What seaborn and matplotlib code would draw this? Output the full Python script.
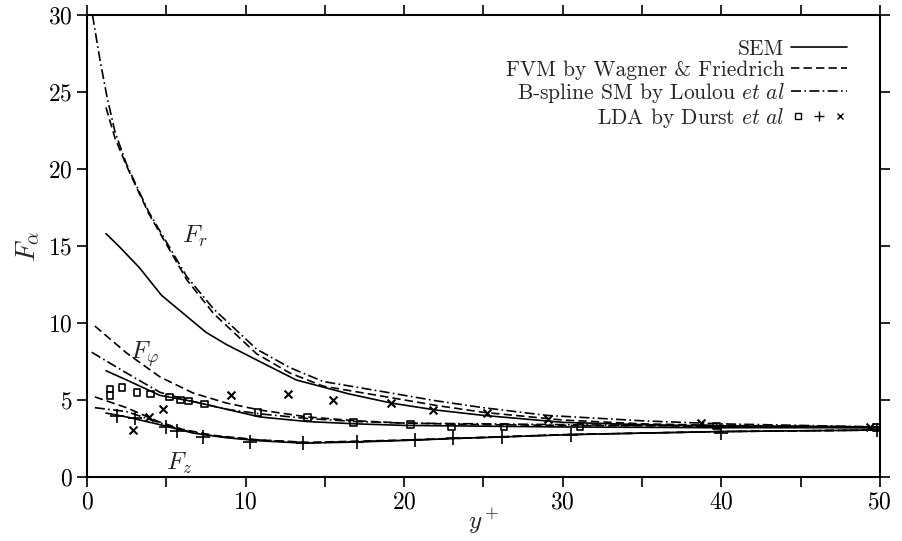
import numpy as np
import matplotlib
matplotlib.use("Agg")
import matplotlib.pyplot as plt
import seaborn as sns
from matplotlib.lines import Line2D
from matplotlib.legend_handler import HandlerTuple

# F_r curves
sem_r_x = [1.2, 2.0, 3.3, 4.7, 7.5, 8.8, 10.7, 13.2, 16.5, 19.2, 22, 25, 30, 35, 40, 45, 50]
sem_r_y = [15.8, 15.0, 13.6, 11.8, 9.4, 8.6, 7.6, 6.3, 5.4, 4.8, 4.35, 4.0, 3.55, 3.4, 3.3, 3.25, 3.2]
fvm_r_x = [1.2, 1.77, 2.5, 2.9, 3.9, 5.1, 6.3, 8.0, 10.7, 12.8, 14.9, 18.9, 22, 25, 30, 35, 40, 45, 50]
fvm_r_y = [24.0, 22.0, 20.2, 19.3, 17.1, 14.95, 12.8, 10.6, 8.0, 6.75, 5.9, 5.2, 4.65, 4.2, 3.7, 3.45, 3.35, 3.3, 3.25]
bsp_r_x = [0.35, 0.8, 1.26, 1.77, 2.5, 2.9, 3.9, 5.1, 6.3, 8.0, 10.7, 12.8, 14.9, 18.9, 22, 25, 29, 35, 40, 45, 50]
bsp_r_y = [30.0, 27.2, 24.7, 22.4, 20.3, 19.4, 17.2, 15.1, 13.0, 10.9, 8.3, 7.1, 6.2, 5.5, 4.95, 4.5, 4.0, 3.65, 3.45, 3.35, 3.25]

# F_phi curves
sem_p_x = [1.2, 2.5, 4.6, 6.7, 8.8, 10.9, 13.9, 17, 20, 25, 30, 40, 50]
sem_p_y = [6.9, 6.3, 5.3, 4.9, 4.4, 3.9, 3.6, 3.45, 3.35, 3.3, 3.25, 3.2, 3.2]
fvm_p_x = [0.5, 2.5, 4.6, 6.7, 8.8, 10.9, 13.9, 17, 20, 25, 30, 40, 50]
fvm_p_y = [9.8, 8.05, 6.5, 5.45, 4.8, 4.35, 3.9, 3.65, 3.5, 3.4, 3.35, 3.3, 3.25]
bsp_p_x = [0.3, 2.5, 4.6, 6.7, 8.8, 10.9, 13.9, 17, 20, 25, 30, 40, 50]
bsp_p_y = [8.1, 6.75, 5.5, 4.9, 4.4, 4.1, 3.8, 3.6, 3.5, 3.45, 3.4, 3.3, 3.25]

# F_z curves
sem_z_x = [1.2, 2.5, 4.6, 6.7, 8.8, 10.9, 13.6, 17, 20.7, 23.1, 26.2, 30.5, 35, 40, 45, 50]
sem_z_y = [4.15, 3.9, 3.4, 2.85, 2.55, 2.35, 2.2, 2.27, 2.4, 2.5, 2.6, 2.75, 2.85, 2.95, 3.0, 3.05]
fvm_z_x = [0.5, 2.5, 4.5, 6.0, 8.0, 10.9, 14, 20, 30, 40, 50]
fvm_z_y = [5.2, 4.5, 3.6, 3.1, 2.7, 2.4, 2.25, 2.4, 2.75, 2.95, 3.05]
bsp_z_x = [0.5, 2.5, 4.5, 6.0, 8.0, 10.9, 14, 20, 30, 40, 50]
bsp_z_y = [4.5, 4.25, 3.55, 3.05, 2.65, 2.4, 2.22, 2.38, 2.75, 2.95, 3.05]

# LDA measurements
lda_sq_x = [1.45, 1.45, 2.2, 3.15, 4.0, 5.2, 5.9, 6.4, 7.4, 10.8, 13.9, 16.8, 20.4, 23.0, 26.3, 31.1, 39.7, 49.8]
lda_sq_y = [5.7, 5.3, 5.8, 5.5, 5.4, 5.2, 5.0, 4.95, 4.75, 4.2, 3.85, 3.55, 3.4, 3.25, 3.25, 3.25, 3.3, 3.2]
lda_plus_x = [1.9, 3.0, 5.0, 5.7, 7.3, 10.3, 13.6, 17.0, 20.7, 23.1, 26.2, 30.5, 40.0, 49.8]
lda_plus_y = [3.95, 3.85, 3.25, 3.0, 2.6, 2.3, 2.2, 2.27, 2.4, 2.5, 2.6, 2.75, 2.85, 3.05]
lda_x_x = [2.9, 3.9, 4.8, 9.1, 12.7, 15.5, 19.2, 21.8, 25.2, 29.1, 38.7, 49.4]
lda_x_y = [3.05, 3.9, 4.4, 5.3, 5.4, 5.0, 4.8, 4.35, 4.15, 3.75, 3.5, 3.25]

sns.set_style("ticks")
plt.rcParams["font.family"] = ["cmr10", "DejaVu Serif"]
plt.rcParams["mathtext.fontset"] = "cm"
plt.rcParams["axes.formatter.use_mathtext"] = True

fig = plt.figure(figsize=(9.03, 5.41), dpi=100)
ax = fig.add_axes([0.0963, 0.1183, 0.878, 0.854])

lw = 1.2
dash = (5, 2.5)
dashdot = (6, 2, 1, 2)
for xs, ys, style in [
    (sem_r_x, sem_r_y, "-"), (fvm_r_x, fvm_r_y, dash), (bsp_r_x, bsp_r_y, dashdot),
    (sem_p_x, sem_p_y, "-"), (fvm_p_x, fvm_p_y, dash), (bsp_p_x, bsp_p_y, dashdot),
    (sem_z_x, sem_z_y, "-"), (fvm_z_x, fvm_z_y, dash), (bsp_z_x, bsp_z_y, dashdot),
]:
    sns.lineplot(x=xs, y=ys, ax=ax, color="k", lw=lw)
    l = ax.lines[-1]
    if style == "-":
        l.set_linestyle("-")
    else:
        l.set_dashes(style)

sns.scatterplot(x=lda_sq_x, y=lda_sq_y, ax=ax, marker="s", s=22,
                facecolor="none", edgecolor="k", linewidth=1.2, zorder=5)
sns.scatterplot(x=lda_plus_x, y=lda_plus_y, ax=ax, marker="+", s=90,
                color="k", linewidth=1.2, zorder=5)
sns.scatterplot(x=lda_x_x, y=lda_x_y, ax=ax, marker="x", s=32,
                color="k", linewidth=1.5, zorder=5)

ax.text(6.0, 15.2, r"$F_r$", fontsize=18)
ax.text(2.7, 7.7, r"$F_\varphi$", fontsize=18)
ax.text(5.0, 0.45, r"$F_z$", fontsize=18)

ax.set_xlim(0, 50)
ax.set_ylim(0, 30)
ax.set_xticks(np.arange(0, 51, 10))
ax.set_xticks(np.arange(0, 51, 5), minor=True)
ax.set_yticks(np.arange(0, 31, 5))
ax.tick_params(which="both", direction="out", top=True, right=True,
               length=7, width=1.2, labelsize=17, color="k", labelcolor="k")
for sp in ax.spines.values():
    sp.set_visible(True)
    sp.set_linewidth(1.5)
    sp.set_color("k")
ax.set_xlabel(r"$y^+$", fontsize=18, labelpad=-5)
ax.set_ylabel(r"$F_\alpha$", fontsize=20, labelpad=4)

h_sem = Line2D([], [], color="k", lw=lw, ls="-")
h_fvm = Line2D([], [], color="k", lw=lw, dashes=dash)
h_bsp = Line2D([], [], color="k", lw=lw, dashes=dashdot)
h_sq = Line2D([], [], color="k", ls="none", marker="s", mfc="none", ms=5)
h_pl = Line2D([], [], color="k", ls="none", marker="+", ms=7)
h_xx = Line2D([], [], color="k", ls="none", marker="x", ms=5)
ax.legend([h_sem, h_fvm, h_bsp, (h_sq, h_pl, h_xx)],
          ["SEM", "FVM by Wagner & Friedrich",
           r"B-spline SM by Loulou $\mathit{et\ al}$",
           r"LDA by Durst $\mathit{et\ al}$"],
          handler_map={tuple: HandlerTuple(ndivide=None, pad=0.3)},
          loc="upper right", bbox_to_anchor=(0.975, 0.975), frameon=False,
          markerfirst=False, fontsize=15.5, handlelength=2.6, handletextpad=0.3,
          labelspacing=0.05, borderaxespad=0.2)

fig.savefig("out.png", dpi=100)
